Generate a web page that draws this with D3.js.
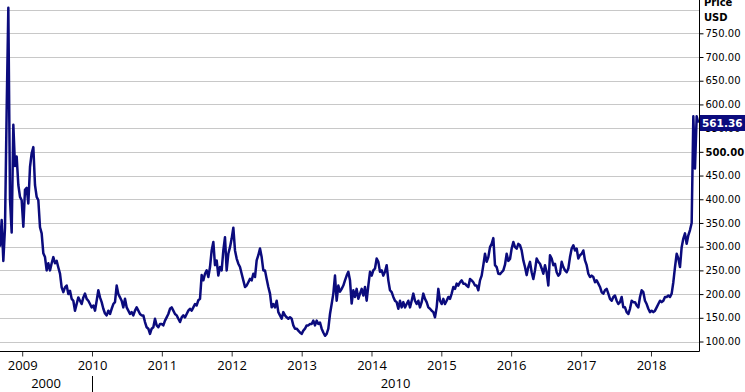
<!DOCTYPE html>
<html><head><meta charset="utf-8">
<script src="https://cdn.jsdelivr.net/npm/d3@7"></script>
<style>html,body{margin:0;padding:0;background:#fff;} svg{display:block}</style>
</head><body><svg id="c" width="745" height="392"></svg>
<script>
// ---- data ----
const firstDate = "2008-09-07";   // first sample
const stepDays = 8.7124;          // spacing between samples (days)
const prices2008_2009 = [300,356,270,340,589,804,400,330,557,470,490,430,405,
  398,342,420,424,391,468,497,510,430,405,398,341,328,
  286,278,250,265,250,265,278,265,270,256,243,214,204,214,218,200,
  207,190,186,165,179,193,186,179,193,201,190,186,179,172,176,165,
  186,208,193,183,169,159,155,165,158,169,179,183,218,200];
const prices2010_2011 = [193,186,172,190,172,165,158,162,155,165,172,165,158,155,155,141,130,127,116,127,
  130,148,134,130,137,137,134,144,151,158,169,172,165,158,155,148,141,151,155,151,158,165,169,165,172,179,176,187,190,
  240,229,243,250,236,257,292,310,261,271,239,257,250,292,320,250,285,299,317,340];
const prices2012_2013 = [292,275,264,257,243,229,215,218,225,232,229,243,236,271,282,296,278,250,250,232,
  215,201,172,179,172,186,162,155,148,162,155,151,148,151,148,134,127,127,123,119,116,123,127,134,134,137,137,144,134,144,137,140,
  127,119,112,116,127,158,179,201,239,186,218,205,211,218,229,239,247,229,180,208,194,211,190,201,211,197,215,186,218,247];
const prices2014_2015 = [239,250,254,275,268,247,250,239,247,261,229,208,204,194,186,183,169,186,172,183,172,179,186,172,186,
  201,186,179,186,172,183,201,190,183,172,169,165,162,151,172,211,186,179,190,179,186,194,190,201,215,211,222,218,225,229,
  222,222,218,215,232,229,225,218,218,208,229,239,261,285,268,278,299,306,318,261,257,243];
const prices2016_2018 = [242,246,250,262,285,270,274,296,310,299,296,306,303,292,271,257,240,257,268,246,232,250,275,268,264,
  254,243,261,246,218,282,275,261,264,246,239,243,268,257,250,246,254,278,296,303,292,296,275,282,285,292,271,261,243,236,
  239,236,225,229,222,215,204,201,208,211,201,190,186,194,197,186,179,183,194,172,172,162,158,169,186,183,183,176,172,194,
  208,204,186,179,169,162,165,162,165,172,179,186,183,186,194,194,197,194,201,225,257,285,275,257,299,317,328,306,324,335,
  350,575,465,575,561.36];
const lastPrice = 561.36;
const yTicks = [100,150,200,250,300,350,400,450,500,550,600,650,700,750];
const gridValues = [100,150,200,250,300,350,400,450,500,550,600,650,700,750,800];
const yearTicks = ["2009","2010","2011","2012","2013","2014","2015","2016","2017","2018"];
const decades = [{label:"2000", from:"2008-09-07", to:"2010-01-01"},{label:"2010", from:"2010-01-01", to:"2018-09-09"}];
const axisTitle = ["Price","USD"];
const domainDates = ["2008-09-07","2018-09-09"];

// ---- build ----
const prices = [].concat(prices2008_2009, prices2010_2011, prices2012_2013, prices2014_2015, prices2016_2018);
const parse = d3.utcParse("%Y-%m-%d");
const t0 = parse(firstDate).getTime();
const data = prices.map((p,i)=>({date:new Date(t0 + i*stepDays*864e5), price:p}));

const W = 745, H = 392;
const plotL = 0, plotR = 699, plotB = 351;
const svg = d3.select("#c");
const x = d3.scaleUtc().domain(domainDates.map(parse)).range([plotL, plotR]);
const y = d3.scaleLinear().domain([100,800]).range([341.5, 9.6]);

// grid
svg.append("g").selectAll("line").data(gridValues).join("line")
  .attr("x1", plotL).attr("x2", plotR)
  .attr("y1", d=>Math.round(y(d))+0.5).attr("y2", d=>Math.round(y(d))+0.5)
  .attr("stroke", "#c8c8c8").attr("stroke-width", 1);

// line
svg.append("path").datum(data)
  .attr("fill","none").attr("stroke","#0b0b7d").attr("stroke-width",2.5)
  .attr("stroke-linejoin","round")
  .attr("d", d3.line().x(d=>x(d.date)).y(d=>y(d.price)));

// right axis
const yAxis = d3.axisRight(y).tickValues(yTicks).tickSize(4).tickPadding(2)
  .tickFormat(d3.format(".2f"));
const ya = svg.append("g").attr("transform", `translate(${plotR+0.5},0)`).call(yAxis);
ya.select(".domain").remove();
ya.selectAll(".tick line").attr("stroke","#000");
ya.selectAll(".tick text").attr("font-family","'DejaVu Sans', Verdana, sans-serif")
  .attr("font-size","10px").attr("fill","#000")
  .attr("font-weight", d=>d===500?"bold":"normal");
svg.append("line").attr("x1",plotR+0.5).attr("x2",plotR+0.5).attr("y1",0).attr("y2",plotB+0.5)
  .attr("stroke","#000");

// axis title
svg.append("g").selectAll("text").data(axisTitle).join("text")
  .attr("x", 704).attr("y",(d,i)=>6+i*15)
  .attr("font-family","'DejaVu Sans', Verdana, sans-serif").attr("font-size","10px")
  .attr("font-weight","bold").attr("fill","#000").text(d=>d);

// last price tag
const ly = y(lastPrice);
svg.append("rect").attr("x", plotR+1).attr("y", Math.round(ly)-8).attr("width", W-plotR).attr("height", 16)
  .attr("fill","#0b0b7d");
svg.append("text").attr("x", plotR+3).attr("y", ly+4)
  .attr("font-family","'DejaVu Sans', Verdana, sans-serif").attr("font-size","10.5px")
  .attr("font-weight","bold").attr("fill","#fff").text(d3.format(".2f")(lastPrice));

// bottom axis
const xAxis = d3.axisBottom(x).tickValues(yearTicks.map(s=>parse(s+"-01-01")))
  .tickSize(5).tickFormat(d3.utcFormat("%Y"));
const xa = svg.append("g").attr("transform",`translate(0,${plotB+0.5})`).call(xAxis);
xa.select(".domain").remove();
xa.selectAll(".tick line").attr("stroke","#333");
xa.selectAll(".tick text").attr("y",18.5).attr("dy",0)
  .attr("font-family","'Open Sans', 'Liberation Sans', sans-serif").attr("font-size","13px").attr("fill","#000");
svg.append("line").attr("x1",plotL).attr("x2",plotR+0.5).attr("y1",plotB+0.5).attr("y2",plotB+0.5).attr("stroke","#000");

// decade row
const dg = svg.append("g");
dg.selectAll("text").data(decades).join("text")
  .attr("x", d=>(Math.max(plotL,x(parse(d.from)))+Math.min(plotR,x(parse(d.to))))/2)
  .attr("y", 388).attr("text-anchor","middle")
  .attr("font-family","'Open Sans', 'Liberation Sans', sans-serif").attr("font-size","13px").attr("fill","#000")
  .text(d=>d.label);
dg.selectAll("line").data(decades.slice(1)).join("line")
  .attr("x1", d=>Math.round(x(parse(d.from)))+0.5).attr("x2", d=>Math.round(x(parse(d.from)))+0.5)
  .attr("y1", 376).attr("y2", H).attr("stroke","#000");
</script></body></html>
